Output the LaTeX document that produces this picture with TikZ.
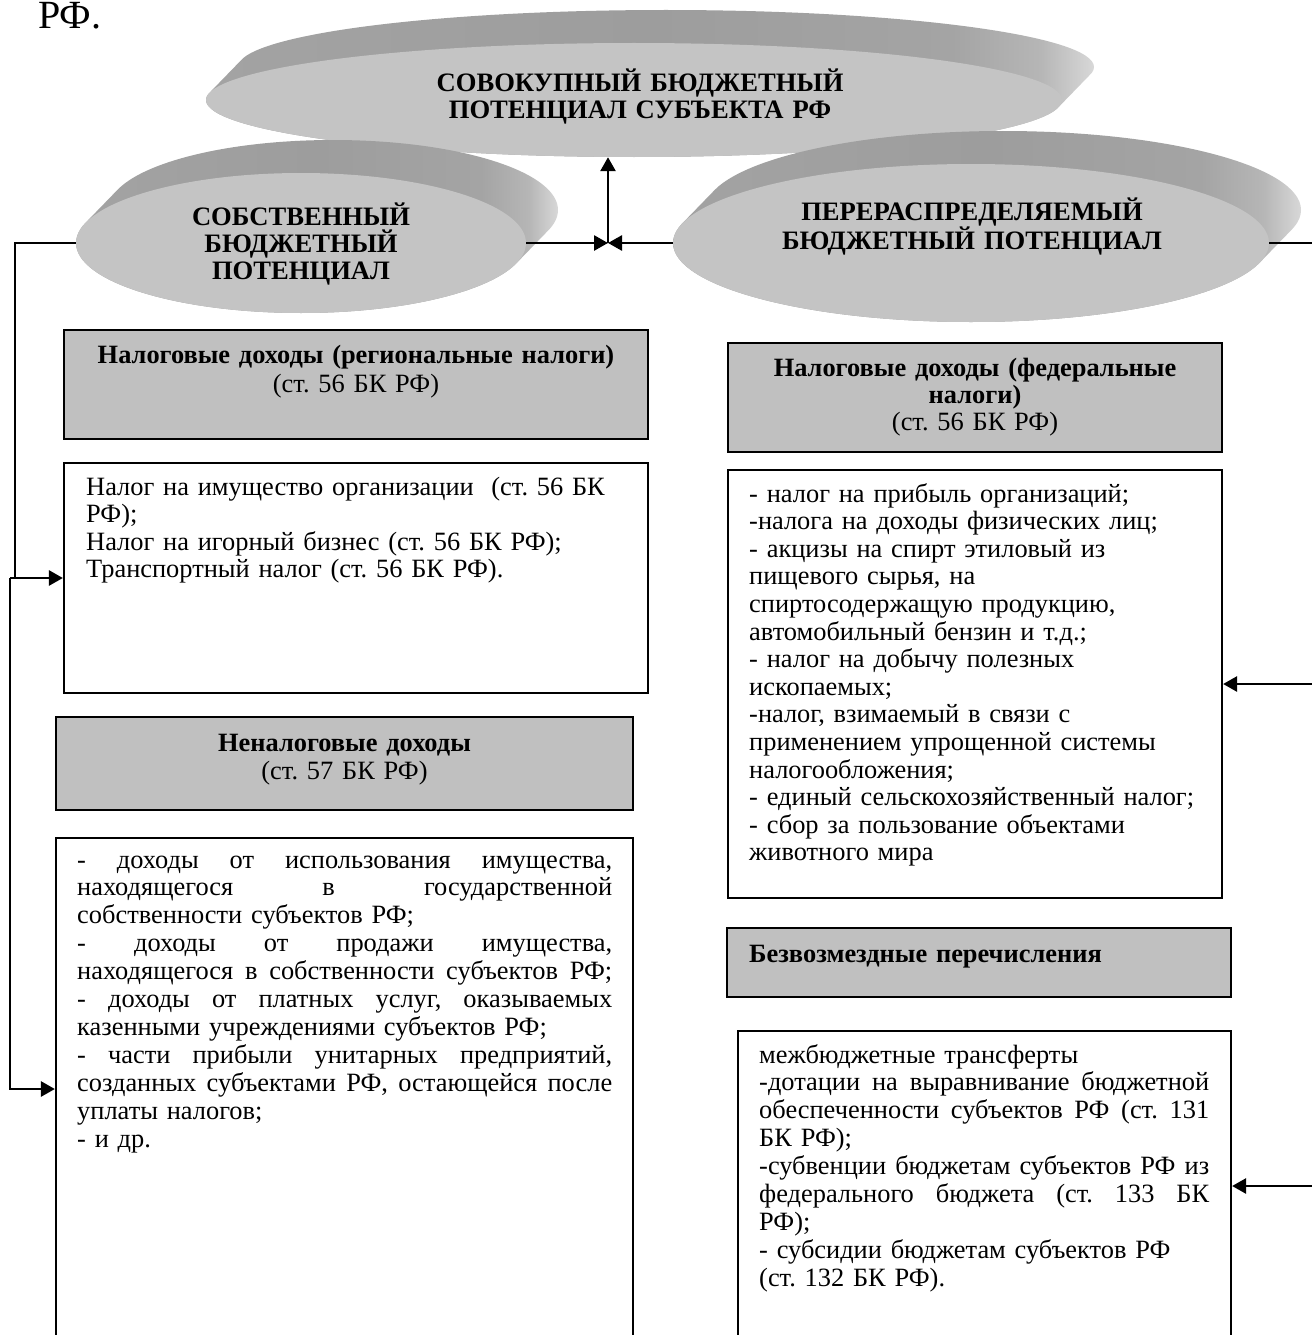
\documentclass[tikz,border=0pt]{standalone}
\usepackage{fontspec}
\setmainfont{Liberation Serif}
\usetikzlibrary{arrows.meta,shapes.geometric,calc}
\frenchspacing

% greys of the ovals and header boxes
\definecolor{facegray}{HTML}{C4C4C4}
\definecolor{headgray}{HTML}{C0C0C0}
\definecolor{rimA}{HTML}{A3A3A3}
\definecolor{rimB}{HTML}{9D9D9D}
\definecolor{rimC}{HTML}{A4A4A4}
\definecolor{rimD}{HTML}{B6B6B6}
\definecolor{rimE}{HTML}{D8D8D8}

% side band of the raised ovals: darker on the left, light at the right end
\pgfdeclarehorizontalshading{rimshade}{100bp}{color(0bp)=(rimA); color(25bp)=(rimA); color(50bp)=(rimB); color(67bp)=(rimC); color(72bp)=(rimD); color(75bp)=(rimE); color(100bp)=(rimE)}

\newcommand{\bodysize}{\fontsize{26.4}{27.7}\selectfont}
\newcommand{\ovalsize}{\fontsize{26.6}{27}\selectfont\bfseries}
% a justified line of a given width: word spaces stretch to fill it
\newcommand{\fullline}[2]{\makebox[#1][s]{\spaceskip=0.25em plus 1fil\relax #2}}

% extruded band of an oval: centre, x radius, y radius
\newcommand{\ovalrim}[3]{%
  \shade[rimfill] \foreach \k in {0,...,24}{ ($(#1)+(\k*1.3333,-\k*1.375)$) ellipse (#2 and #3) };
}

\tikzset{
  rimfill/.style={shading=rimshade},
  ovalface/.style={ellipse, fill=facegray, inner sep=0pt},
  ovaltext/.style={font=\ovalsize, align=center, inner sep=0pt, anchor=base, text width=600pt},
  headbox/.style={draw=black, line width=2.4pt, fill=headgray, inner sep=0pt},
  listbox/.style={draw=black, line width=2.2pt, fill=white, inner sep=0pt},
  headtext/.style={font=\bodysize, align=center, inner sep=0pt, anchor=base},
  listtext/.style={font=\bodysize, align=left, inner sep=0pt, anchor=base west},
  link/.style={line width=2.7pt, draw=black, line join=miter},
  arrowline/.style={link, -{Triangle[length=14pt,width=15pt]}},
}

\begin{document}
\begin{tikzpicture}[x=1pt,y=-1pt]
\useasboundingbox (0,0) rectangle (1311,1335);
\fill[white] (0,0) rectangle (1311,1335);

\node[font=\fontsize{40}{44}\selectfont, anchor=base west, inner sep=0pt] (rfhead) at (38,29) {РФ.};

% ---- total budget potential (top oval)
\ovalrim{634,100}{428}{57}
\node[ovalface, minimum width=856pt, minimum height=114pt] (totoval) at (634,100) {};
\node[ovaltext] (tottext) at (640,92) {СОВОКУПНЫЙ БЮДЖЕТНЫЙ\\ПОТЕНЦИАЛ СУБЪЕКТА РФ};

% ---- own budget potential (left oval)
\ovalrim{301,243}{225}{70}
\node[ovalface, minimum width=450pt, minimum height=140pt] (ownoval) at (301,243) {};
\node[ovaltext, text width=400pt] (owntext) at (301,225) {СОБСТВЕННЫЙ\\БЮДЖЕТНЫЙ\\ПОТЕНЦИАЛ};

% ---- redistributed budget potential (right oval)
\ovalrim{971,243}{298}{79}
\node[ovalface, minimum width=596pt, minimum height=158pt] (redoval) at (971,243) {};
\node[ovaltext, font=\fontsize{26.6}{28}\selectfont\bfseries] (redtext) at (972,220) {ПЕРЕРАСПРЕДЕЛЯЕМЫЙ\\БЮДЖЕТНЫЙ ПОТЕНЦИАЛ};

% ---- left column
\node[headbox, minimum width=584pt, minimum height=109pt] (taxhead) at (356,384.5) {};
\node[headtext, text width=584pt, font=\fontsize{26.4}{29}\selectfont] (taxheadtext) at (356,363)
  {\textbf{Налоговые доходы (региональные налоги)}\\(ст. 56 БК РФ)};

\node[listbox, minimum width=584pt, minimum height=230pt] (taxlist) at (356,578) {};
\node[listtext, text width=600pt, font=\fontsize{26.4}{27.5}\selectfont] (taxlisttext) at (86,495)
  {Налог на имущество организации\ \ (ст. 56 БК\\
   РФ);\\
   Налог на игорный бизнес (ст. 56 БК РФ);\\
   Транспортный налог (ст. 56 БК РФ).};

\node[headbox, minimum width=577pt, minimum height=93pt] (nontaxhead) at (344.5,763.5) {};
\node[headtext, text width=577pt, font=\fontsize{26.4}{28}\selectfont] (nontaxheadtext) at (344.5,751)
  {\textbf{Неналоговые доходы}\\(ст. 57 БК РФ)};

\node[listbox, minimum width=577pt, minimum height=502pt] (nontaxlist) at (344.5,1089) {};
\node[listtext, text width=600pt, font=\fontsize{26.4}{27.9}\selectfont] (nontaxlisttext) at (77,868)
  {\fullline{535pt}{- доходы от использования имущества,}\\
   \fullline{535pt}{находящегося в государственной}\\
   собственности субъектов РФ;\\
   \fullline{535pt}{- доходы от продажи имущества,}\\
   \fullline{535pt}{находящегося в собственности субъектов РФ;}\\
   \fullline{535pt}{- доходы от платных услуг, оказываемых}\\
   казенными учреждениями субъектов РФ;\\
   \fullline{535pt}{- части прибыли унитарных предприятий,}\\
   \fullline{535pt}{созданных субъектами РФ, остающейся после}\\
   уплаты налогов;\\
   - и др.};

% ---- right column
\node[headbox, minimum width=494pt, minimum height=109pt] (fedhead) at (975,397.5) {};
\node[headtext, text width=494pt, font=\fontsize{26.4}{27}\selectfont] (fedheadtext) at (975,376)
  {\textbf{Налоговые доходы (федеральные}\\\textbf{налоги)}\\(ст. 56 БК РФ)};

\node[listbox, minimum width=494pt, minimum height=428pt] (fedlist) at (975,684) {};
\node[listtext, text width=600pt, font=\fontsize{26.4}{27.6}\selectfont] (fedlisttext) at (749,502)
  {- налог на прибыль организаций;\\
   -налога на доходы физических лиц;\\
   - акцизы на спирт этиловый из\\
   пищевого сырья, на\\
   спиртосодержащую продукцию,\\
   автомобильный бензин и т.д.;\\
   - налог на добычу полезных\\
   ископаемых;\\
   -налог, взимаемый в связи с\\
   применением упрощенной системы\\
   налогообложения;\\
   - единый сельскохозяйственный налог;\\
   - сбор за пользование объектами\\
   животного мира};

\node[headbox, minimum width=504pt, minimum height=69pt] (granthead) at (979,962.5) {};
\node[listtext, text width=480pt] (grantheadtext) at (749,962) {\textbf{Безвозмездные перечисления}};

\node[listbox, minimum width=493pt, minimum height=310pt] (grantlist) at (984.5,1186) {};
\node[listtext, text width=600pt, font=\fontsize{26.4}{27.9}\selectfont] (grantlisttext) at (759,1063)
  {межбюджетные трансферты\\
   \fullline{450pt}{-дотации на выравнивание бюджетной}\\
   \fullline{450pt}{обеспеченности субъектов РФ (ст. 131}\\
   БК РФ);\\
   \fullline{450pt}{-субвенции бюджетам субъектов РФ из}\\
   \fullline{450pt}{федерального бюджета (ст. 133 БК}\\
   РФ);\\
   - субсидии бюджетам субъектов РФ\\
   (ст. 132 БК РФ).};

% ---- connectors
\coordinate (jn) at (608,243);
\draw[arrowline] (ownoval.east) -- (jn);
\draw[arrowline] (redoval.west) -- (jn);
\draw[arrowline] (jn) -- (jn |- totoval.south);

\coordinate (lfoot) at (15,578);
\coordinate (lfork) at (10,578);
\draw[link] (ownoval.west) -| (lfoot);
\draw[arrowline] (lfork) -- (taxlist.west);
\draw[arrowline] (lfork) |- (nontaxlist.west);

\coordinate (rbend) at (1318,243);
\coordinate (rfoot) at (1318,1186);
\draw[link] (redoval.east) -| (rfoot);
\draw[arrowline] (rbend |- fedlist.east) -- (fedlist.east);
\draw[arrowline] (rfoot) -- (grantlist.east);
\end{tikzpicture}
\end{document}
